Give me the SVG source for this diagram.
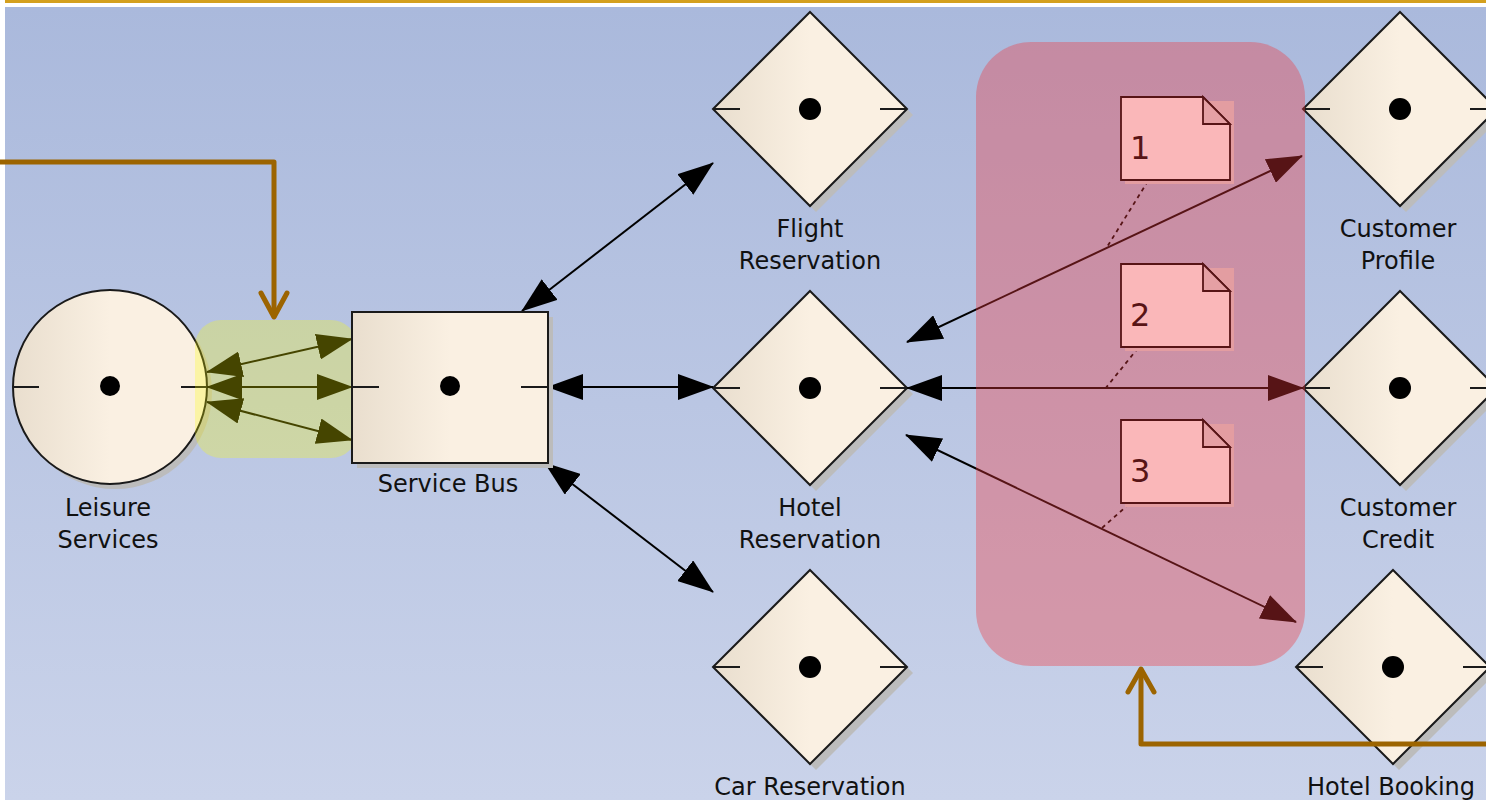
<svg xmlns="http://www.w3.org/2000/svg" width="1486" height="800" viewBox="0 0 1486 800">
<defs>
<linearGradient id="bg" x1="0" y1="0" x2="0" y2="1">
<stop offset="0" stop-color="#AAB9DC"/>
<stop offset="1" stop-color="#CAD3EA"/>
</linearGradient>
<linearGradient id="nodefill" x1="0" y1="0" x2="1" y2="0">
<stop offset="0" stop-color="#E9DECE"/>
<stop offset="0.5" stop-color="#FAF0E2"/>
<stop offset="1" stop-color="#FAF0E2"/>
</linearGradient>
<marker id="ah" markerUnits="userSpaceOnUse" markerWidth="36" markerHeight="26" viewBox="0 0 36 26" refX="35" refY="13" orient="auto-start-reverse">
<path d="M0,0 L36,13 L0,26 Z" fill="#000"/>
</marker>
</defs>
<style>
.lbl{font-family:"DejaVu Sans","Liberation Sans",sans-serif;font-size:24px;fill:#111;text-anchor:middle}
.num{font-family:"DejaVu Sans","Liberation Sans",sans-serif;font-size:32px;fill:#000}
.shape{fill:url(#nodefill);stroke:#1a1a1a;stroke-width:2}
.shadow{fill:#BCBCBC}
.tick{stroke:#1a1a1a;stroke-width:2}
.dot{fill:#000}
.conn{stroke:#000;stroke-width:2;fill:none;marker-start:url(#ah);marker-end:url(#ah)}
.note{fill:#fff;stroke:#000;stroke-width:1.8}
.fold{fill:#DFDBDE;stroke:#000;stroke-width:1.8}
.nshadow{fill:#DCD6DA}
.link{stroke:#000;stroke-width:1.8;stroke-dasharray:4 4;fill:none}
.orange{stroke:#9C6400;stroke-width:5;fill:none;stroke-linejoin:round;stroke-linecap:round}
</style>
<rect x="0" y="0" width="1486" height="800" fill="#fff"/>
<rect x="5" y="7" width="1481" height="793" fill="url(#bg)"/>
<rect x="5" y="0" width="1481" height="3" fill="#D4A01E"/>

<g id="leisure-services">
<circle cx="115" cy="392" r="97" class="shadow"/>
<circle cx="110" cy="387" r="97" class="shape"/>
<line x1="13" y1="387" x2="39" y2="387" class="tick"/>
<line x1="181" y1="387" x2="207" y2="387" class="tick"/>
<circle cx="110" cy="386" r="10" class="dot"/>
<text x="108" y="516" class="lbl">Leisure</text>
<text x="108" y="548" class="lbl">Services</text>
</g>

<g id="flight-reservation">
<polygon points="816,18 913,115 816,212 719,115" class="shadow"/>
<polygon points="810,12 907,109 810,206 713,109" class="shape"/>
<line x1="713" y1="109" x2="740" y2="109" class="tick"/>
<line x1="880" y1="109" x2="907" y2="109" class="tick"/>
<circle cx="810" cy="109" r="11" class="dot"/>
<text x="810" y="237" class="lbl">Flight</text>
<text x="810" y="269" class="lbl">Reservation</text>
</g>

<g id="hotel-reservation">
<polygon points="816,297 913,394 816,491 719,394" class="shadow"/>
<polygon points="810,291 907,388 810,485 713,388" class="shape"/>
<line x1="713" y1="388" x2="740" y2="388" class="tick"/>
<line x1="880" y1="388" x2="907" y2="388" class="tick"/>
<circle cx="810" cy="388" r="11" class="dot"/>
<text x="810" y="516" class="lbl">Hotel</text>
<text x="810" y="548" class="lbl">Reservation</text>
</g>

<g id="car-reservation">
<polygon points="816,576 913,673 816,770 719,673" class="shadow"/>
<polygon points="810,570 907,667 810,764 713,667" class="shape"/>
<line x1="713" y1="667" x2="740" y2="667" class="tick"/>
<line x1="880" y1="667" x2="907" y2="667" class="tick"/>
<circle cx="810" cy="667" r="11" class="dot"/>
<text x="810" y="795" class="lbl">Car Reservation</text>
</g>

<g id="customer-profile">
<polygon points="1406,18 1503,115 1406,212 1309,115" class="shadow"/>
<polygon points="1400,12 1497,109 1400,206 1303,109" class="shape"/>
<line x1="1303" y1="109" x2="1330" y2="109" class="tick"/>
<line x1="1470" y1="109" x2="1497" y2="109" class="tick"/>
<circle cx="1400" cy="109" r="11" class="dot"/>
<text x="1398" y="237" class="lbl">Customer</text>
<text x="1398" y="269" class="lbl">Profile</text>
</g>

<g id="customer-credit">
<polygon points="1406,297 1503,394 1406,491 1309,394" class="shadow"/>
<polygon points="1400,291 1497,388 1400,485 1303,388" class="shape"/>
<line x1="1303" y1="388" x2="1330" y2="388" class="tick"/>
<line x1="1470" y1="388" x2="1497" y2="388" class="tick"/>
<circle cx="1400" cy="388" r="11" class="dot"/>
<text x="1398" y="516" class="lbl">Customer</text>
<text x="1398" y="548" class="lbl">Credit</text>
</g>

<g id="hotel-booking">
<polygon points="1399,576 1496,673 1399,770 1302,673" class="shadow"/>
<polygon points="1393,570 1490,667 1393,764 1296,667" class="shape"/>
<line x1="1296" y1="667" x2="1323" y2="667" class="tick"/>
<line x1="1463" y1="667" x2="1490" y2="667" class="tick"/>
<circle cx="1393" cy="667" r="11" class="dot"/>
<text x="1391" y="795" class="lbl">Hotel Booking</text>
</g>

<g id="connectors">
<line x1="522" y1="311" x2="713" y2="163" class="conn"/>
<line x1="548" y1="387" x2="713" y2="387" class="conn"/>
<line x1="545" y1="463" x2="713" y2="592" class="conn"/>
<line x1="907" y1="342" x2="1302" y2="156" class="conn"/>
<line x1="907" y1="388" x2="1303" y2="388" class="conn"/>
<line x1="906" y1="435" x2="1296" y2="622" class="conn"/>
<line x1="207" y1="372" x2="352" y2="339" class="conn"/>
<line x1="207" y1="387" x2="352" y2="387" class="conn"/>
<line x1="207" y1="402" x2="352" y2="440" class="conn"/>
<line x1="1148" y1="181" x2="1107" y2="247" class="link"/>
<line x1="1138" y1="348" x2="1105" y2="389" class="link"/>
<line x1="1129" y1="504" x2="1102" y2="528" class="link"/>
</g>

<g id="note-1">
<path d="M1125,101 H1234 V184 H1125 Z" class="nshadow"/>
<path d="M1121,97 H1203 L1230,124 V180 H1121 Z" class="note"/>
<path d="M1203,97 V124 H1230 Z" class="fold"/>
<text x="1130" y="159" class="num">1</text>
</g>
<g id="note-2">
<path d="M1125,268 H1234 V351 H1125 Z" class="nshadow"/>
<path d="M1121,264 H1203 L1230,291 V347 H1121 Z" class="note"/>
<path d="M1203,264 V291 H1230 Z" class="fold"/>
<text x="1130" y="326" class="num">2</text>
</g>
<g id="note-3">
<path d="M1125,424 H1234 V507 H1125 Z" class="nshadow"/>
<path d="M1121,420 H1203 L1230,447 V503 H1121 Z" class="note"/>
<path d="M1203,420 V447 H1230 Z" class="fold"/>
<text x="1130" y="482" class="num">3</text>
</g>

<g id="boundary-green">
<rect x="195" y="320" width="162" height="138" rx="26" fill="#FFFF00" fill-opacity="0.27"/>
</g>

<g id="service-bus">
<rect x="357" y="317" width="196" height="151" class="shadow"/>
<rect x="352" y="312" width="196" height="151" class="shape"/>
<line x1="352" y1="387" x2="379" y2="387" class="tick"/>
<line x1="521" y1="387" x2="548" y2="387" class="tick"/>
<circle cx="450" cy="386" r="10" class="dot"/>
<text x="448" y="492" class="lbl">Service Bus</text>
</g>

<g id="boundary-pink">
<rect x="976" y="42" width="329" height="624" rx="55" fill="#F0373C" fill-opacity="0.36"/>
</g>

<g id="orange-connectors">
<path d="M0,162 H274 V316" class="orange"/>
<path d="M261,293 L274,317 L287,293" class="orange"/>
<path d="M1486,744 H1141 V670" class="orange"/>
<path d="M1128,692 L1141,669 L1154,692" class="orange"/>
</g>
</svg>
